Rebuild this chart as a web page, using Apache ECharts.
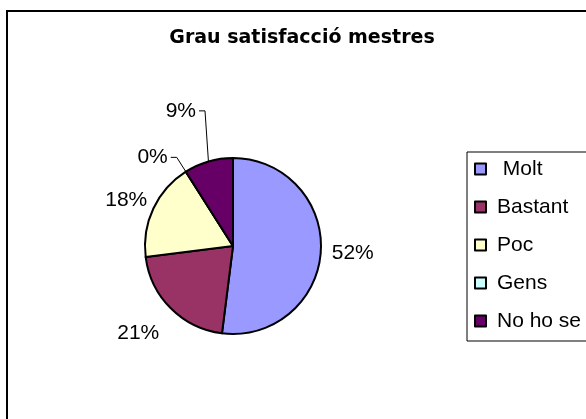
<!DOCTYPE html>
<html>
<head>
<meta charset="utf-8">
<script src="https://cdn.jsdelivr.net/npm/echarts@6/dist/echarts.min.js"></script>
<style>
  html, body { margin: 0; padding: 0; background: #fff; }
  #chart { width: 586px; height: 419px; }
</style>
</head>
<body>
<div id="chart"></div>
<script>
  // chart data
  var categories = [' Molt', 'Bastant', 'Poc', 'Gens', 'No ho se']
  var percentValues = [52, 21, 18, 0, 9]
  var sliceColors = ['#9999FF', '#993366', '#FFFFCC', '#CCFFFF', '#660066']

  // pie geometry / label placement
  var cx = 233, cy = 246, radius = 88
  var labelDist = [99, 113, 97, 105, 138]
  var hasLeader = [false, false, false, true, true]
  var leaderTilt = [0, 0, 0, 0, 4.5]

  var total = percentValues.reduce(function (a, b) { return a + b }, 0)

  function midAngle(i) {
    var before = 0
    for (var j = 0; j < i; j++) before += percentValues[j]
    return (before + percentValues[i] / 2) / total * Math.PI * 2
  }

  function leaderPoints(i) {
    var a = midAngle(i)
    var k = a + leaderTilt[i] * Math.PI / 180
    var ex = cx + radius * Math.sin(a), ey = cy - radius * Math.cos(a)
    var kx = cx + labelDist[i] * Math.sin(k), ky = cy - labelDist[i] * Math.cos(k)
    return [[ex, ey], [kx, ky], [kx - 6, ky]]
  }

  var graphics = [{
    type: 'rect',
    shape: {x: 7, y: 11, width: 640, height: 480},
    style: {fill: null, stroke: '#000', lineWidth: 2},
    silent: true
  }]
  percentValues.forEach(function (v, i) {
    if (hasLeader[i]) {
      graphics.push({
        type: 'polyline',
        shape: {points: leaderPoints(i)},
        style: {stroke: '#000', lineWidth: 1, fill: null},
        silent: true
      })
    }
  })

  var chart = echarts.init(document.getElementById('chart'))
  chart.setOption({
    animation: false,
    backgroundColor: '#fff',
    title: {
      text: 'Grau satisfacció mestres',
      left: 302,
      textAlign: 'center',
      top: 29,
      padding: 0,
      textStyle: {
        fontFamily: 'DejaVu Sans',
        fontWeight: 'bold',
        fontSize: 19,
        color: '#000'
      }
    },
    graphic: graphics,
    legend: {
      orient: 'vertical',
      left: 467,
      top: 152,
      data: categories,
      selectedMode: false,
      icon: 'rect',
      itemWidth: 11,
      itemHeight: 11,
      itemGap: 16,
      padding: [6, 80, 9, 7],
      borderColor: '#000',
      borderWidth: 1,
      backgroundColor: '#fff',
      itemStyle: {borderColor: '#000', borderWidth: 2},
      textStyle: {
        fontFamily: 'Liberation Sans',
        fontSize: 21,
        lineHeight: 22,
        color: '#000',
        padding: [0, 0, 0, 6]
      }
    },
    series: [{
      type: 'pie',
      center: [cx, cy],
      radius: radius,
      startAngle: 90,
      clockwise: true,
      avoidLabelOverlap: false,
      silent: true,
      data: categories.map(function (name, i) {
        return {name: name, value: percentValues[i], itemStyle: {color: sliceColors[i]}}
      }),
      itemStyle: {borderColor: '#000', borderWidth: 2},
      label: {
        show: true,
        position: 'outside',
        fontFamily: 'Liberation Sans',
        fontSize: 21,
        color: '#000',
        formatter: function (p) { return Math.round(p.percent) + '%' }
      },
      labelLine: {show: false},
      labelLayout: function (params) {
        var i = params.dataIndex
        if (hasLeader[i]) {
          var pts = leaderPoints(i)
          return {x: pts[2][0] - 3, y: pts[2][1], align: 'right', verticalAlign: 'middle'}
        }
        var a = midAngle(i)
        var dx = Math.sin(a), dy = -Math.cos(a)
        var px = cx + labelDist[i] * dx, py = cy + labelDist[i] * dy
        var w = params.labelRect.width, h = params.labelRect.height
        return {x: px + dx * w / 2, y: py + dy * h / 2, align: 'center', verticalAlign: 'middle'}
      }
    }]
  })
</script>
</body>
</html>
